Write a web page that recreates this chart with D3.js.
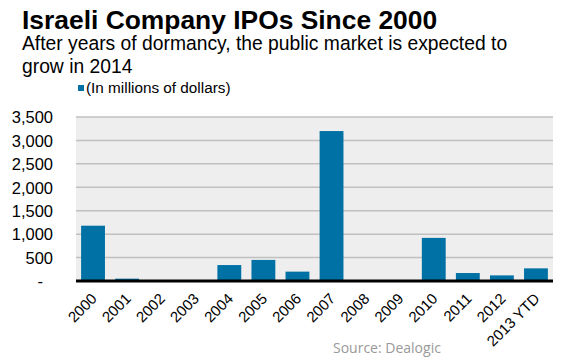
<!DOCTYPE html>
<html><head><meta charset="utf-8">
<script src="https://cdn.jsdelivr.net/npm/d3@7"></script>
<style>body{margin:0;background:#fff;}svg{display:block;}</style>
</head><body>
<script>
const categories = ["2000","2001","2002","2003","2004","2005","2006","2007","2008","2009","2010","2011","2012","2013 YTD"];
const values = [1180, 50, 0, 0, 340, 450, 200, 3200, 0, 0, 920, 170, 120, 270];
const yTicks = [0, 500, 1000, 1500, 2000, 2500, 3000, 3500];
const title = "Israeli Company IPOs Since 2000";
const subtitle = ["After years of dormancy, the public market is expected to", "grow in 2014"];
const legendLabel = "(In millions of dollars)";
const source = "Source: Dealogic";

const W = 564, H = 359;
const m = {left: 76, right: 11, top: 117, bottom: 78};
const svg = d3.select("body").append("svg").attr("width", W).attr("height", H);
const font = "Liberation Sans, Arial, sans-serif";

const x = d3.scaleBand().domain(categories).range([m.left, W - m.right]).paddingInner(0.3).paddingOuter(0.15);
const y = d3.scaleLinear().domain([0, 3500]).range([H - m.bottom, m.top]);

svg.append("text").attr("x", 22).attr("y", 29).attr("font-family", font).attr("font-weight", "bold")
  .attr("font-size", 26.4).attr("fill", "#000").text(title);
subtitle.forEach((s, i) => svg.append("text").attr("x", 22).attr("y", 49.5 + i * 23.5).attr("font-family", font)
  .attr("font-size", 19.3).attr("fill", "#000").text(s));

svg.append("rect").attr("x", 78).attr("y", 85).attr("width", 6).attr("height", 6).attr("fill", "#0071a4");
svg.append("text").attr("x", 86).attr("y", 93).attr("font-family", font).attr("font-size", 15.3).attr("fill", "#000").text(legendLabel);

svg.append("rect").attr("x", m.left).attr("y", m.top).attr("width", W - m.right - m.left).attr("height", y(0) - m.top).attr("fill", "#eeeeee");

svg.append("g").selectAll("line").data(yTicks.filter(d => d > 0)).join("line")
  .attr("x1", m.left).attr("x2", W - m.right).attr("y1", d => y(d)).attr("y2", d => y(d))
  .attr("stroke", "#c0c0c0").attr("stroke-width", 1.5);

svg.append("g").selectAll("rect").data(values).join("rect")
  .attr("x", (d, i) => x(categories[i])).attr("width", x.bandwidth())
  .attr("y", d => y(d)).attr("height", d => y(0) - y(d)).attr("fill", "#0071a4");

svg.append("line").attr("x1", m.left).attr("x2", W - m.right).attr("y1", y(0)).attr("y2", y(0))
  .attr("stroke", "#000").attr("stroke-width", 3);

const yAxis = d3.axisLeft(y).tickValues(yTicks).tickSize(0).tickPadding(0)
  .tickFormat(d => d === 0 ? "-" : d3.format(",")(d));
const gy = svg.append("g").attr("transform", `translate(53,0)`).call(yAxis);
gy.select(".domain").remove();
gy.selectAll("text").attr("font-family", font).attr("font-size", 16.5).attr("fill", "#000")
  .attr("dy", "0.35em").attr("dx", d => d === 0 ? -10 : 0);

const xAxis = d3.axisBottom(x).tickSize(0);
const gx = svg.append("g").attr("transform", `translate(0,${y(0)})`).call(xAxis);
gx.select(".domain").remove();
gx.selectAll("text").attr("font-family", font).attr("font-size", 15).attr("fill", "#000")
  .attr("text-anchor", "end").attr("transform", "translate(1,15) rotate(-45)").attr("dy", "0.35em").attr("y", 0);

svg.append("text").attr("x", 333).attr("y", 353).attr("font-family", "Open Sans, sans-serif")
  .attr("font-size", 14).attr("fill", "#999").text(source);
</script>
</body></html>
